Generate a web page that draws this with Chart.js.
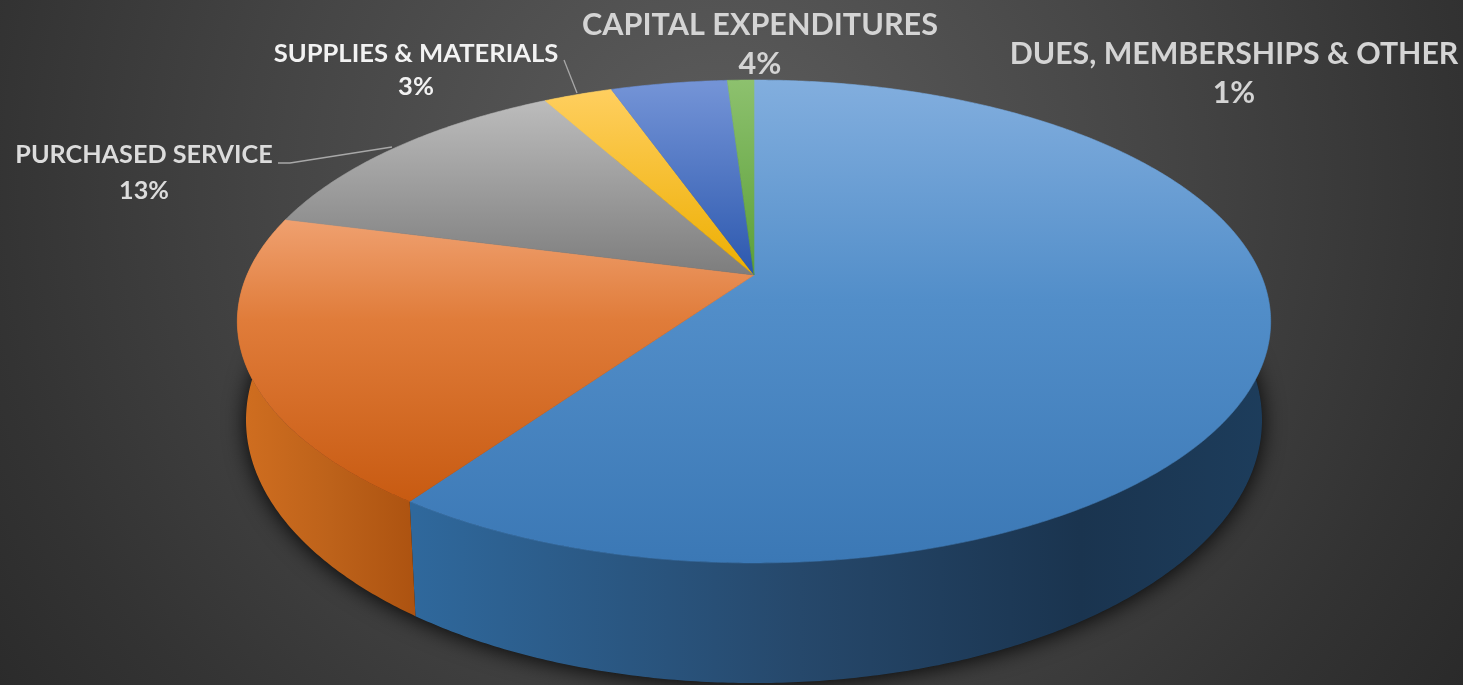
<!DOCTYPE html>
<html>
<head>
<meta charset="utf-8">
<style>html,body{margin:0;padding:0;background:#333;overflow:hidden}canvas{display:block}</style>
<script src="https://cdn.jsdelivr.net/npm/chart.js@4"></script>
</head>
<body>
<div style="width:1463px;height:685px"><canvas id="c" width="1463" height="685"></canvas></div>
<script>
// Data, clockwise from 12 o'clock
const categories = ['', '', 'PURCHASED SERVICE', 'SUPPLIES & MATERIALS', 'CAPITAL EXPENDITURES', 'DUES, MEMBERSHIPS & OTHER'];
const shares = [59.75, 19.35, 13, 2.6, 4.4, 1];
const percentLabels = ['', '', '13%', '3%', '4%', '1%'];

// Styles
const topStops = [
  [[80,'#82aede'],[300,'#528ec9'],[563,'#3b78b5']],
  [[215,'#f0a272'],[320,'#e07c3a'],[500,'#c85b12']],
  [[100,'#bcbcbc'],[275,'#7d7d7d']],
  [[88,'#ffcf60'],[275,'#edae00']],
  [[85,'#7393d6'],[275,'#2c58ae']],
  [[80,'#8dc16e'],[275,'#5b9f38']]
];
const wallStops = [
  [[415,'#2f689c'],[800,'#26486b'],[1080,'#1a344f'],[1272,'#1d3d5c']],
  [[240,'#d06e20'],[330,'#bd621a'],[418,'#ac5210']],
  [[0,'#555'],[1,'#555']],[[0,'#997'],[1,'#997']],[[0,'#234'],[1,'#234']],[[0,'#363'],[1,'#363']]
];
const textLayout = [null, null,
  {x:144,y1:155,y2:191,size:25.2,color:'#dcdcdc'},
  {x:416,y1:54,y2:87,size:25.6,color:'#f2f2f2'},
  {x:760,y1:25,y2:64,size:30.6,color:'#d4d4d4'},
  {x:1234,y1:54,y2:93,size:30.3,color:'#d4d4d4'}
];
const leaders = [[[278,163],[290,163],[392,147]],[[564,60],[577,93]]];

// Perspective projection of the disc rim
const k = 0.1925;
const upper = {cx:754, cy:275, a:507, b:232.5};
const lower = {cx:754, cy:369.4, a:498.5, b:253.3};
function rim(p, t){
  const x = Math.sin(t), y = -Math.cos(t), w = 1 - k*y;
  return [p.cx + p.a*x/w, p.cy + p.b*y/w];
}
function arcPts(p, s, e){
  const n = Math.max(2, Math.ceil((e-s)/(Math.PI/360))), out = [];
  for(let i=0;i<=n;i++) out.push(rim(p, s+(e-s)*i/n));
  return out;
}
function grad(ctx, stops, horizontal){
  const lo = stops[0][0], hi = stops[stops.length-1][0];
  const g = horizontal ? ctx.createLinearGradient(lo,0,hi,0) : ctx.createLinearGradient(0,lo,0,hi);
  stops.forEach(s=>g.addColorStop((s[0]-lo)/((hi-lo)||1), s[1]));
  return g;
}
function trace(ctx, pts){ pts.forEach((q,i)=> i?ctx.lineTo(q[0],q[1]):ctx.moveTo(q[0],q[1])); }

const pie3d = {
  id:'pie3d',
  beforeDraw(chart){
    const ctx = chart.ctx;
    const g = ctx.createRadialGradient(720,180,60,720,180,900);
    g.addColorStop(0,'#5a5a5a'); g.addColorStop(0.45,'#454545'); g.addColorStop(0.8,'#333333'); g.addColorStop(1,'#2a2a2a');
    ctx.save(); ctx.fillStyle = g; ctx.fillRect(0,0,chart.width,chart.height); ctx.restore();
  },
  beforeDatasetsDraw(chart){
    const ctx = chart.ctx, arcs = chart.getDatasetMeta(0).data;
    const ang = a => a + Math.PI/2;
    ctx.save();
    // shadow under the disc
    ctx.save();
    ctx.shadowColor='rgba(0,0,0,0.9)'; ctx.shadowBlur=22; ctx.shadowOffsetX=0; ctx.shadowOffsetY=2;
    ctx.fillStyle='#1a1a1a';
    ctx.beginPath(); trace(ctx, arcPts(lower,0,Math.PI*2)); ctx.closePath(); ctx.fill();
    ctx.restore();
    // walls
    arcs.forEach((el,i)=>{
      const s=ang(el.startAngle), e=ang(el.endAngle);
      ctx.beginPath();
      trace(ctx, arcPts(upper,s,e).concat(arcPts(lower,s,e).reverse()));
      ctx.closePath();
      ctx.fillStyle = grad(ctx, wallStops[i], true);
      ctx.fill();
    });
    // top faces
    arcs.forEach((el,i)=>{
      const s=ang(el.startAngle), e=ang(el.endAngle);
      ctx.beginPath();
      trace(ctx, [[upper.cx,upper.cy]].concat(arcPts(upper,s,e)));
      ctx.closePath();
      const f = grad(ctx, topStops[i], false);
      ctx.fillStyle = f; ctx.strokeStyle = f; ctx.lineWidth = 0.6;
      ctx.fill(); ctx.stroke();
    });
    ctx.restore();
    return false;
  },
  afterDraw(chart){
    const ctx = chart.ctx;
    ctx.save();
    ctx.strokeStyle='#a8a8a8'; ctx.lineWidth=1.3;
    leaders.forEach(l=>{ctx.beginPath(); trace(ctx,l); ctx.stroke();});
    ctx.textAlign='center'; ctx.textBaseline='middle';
    textLayout.forEach((t,i)=>{
      if(!t) return;
      ctx.font = 'bold '+t.size+'px Lato, "Open Sans", sans-serif';
      ctx.fillStyle = t.color;
      ctx.fillText(categories[i], t.x, t.y1);
      ctx.fillText(percentLabels[i], t.x, t.y2);
    });
    ctx.restore();
  }
};

new Chart(document.getElementById('c'), {
  type:'pie',
  data:{labels:categories, datasets:[{data:shares, borderWidth:0}]},
  options:{
    responsive:false, animation:false,
    plugins:{legend:{display:false}, tooltip:{enabled:false}}
  },
  plugins:[pie3d]
});
</script>
</body>
</html>
